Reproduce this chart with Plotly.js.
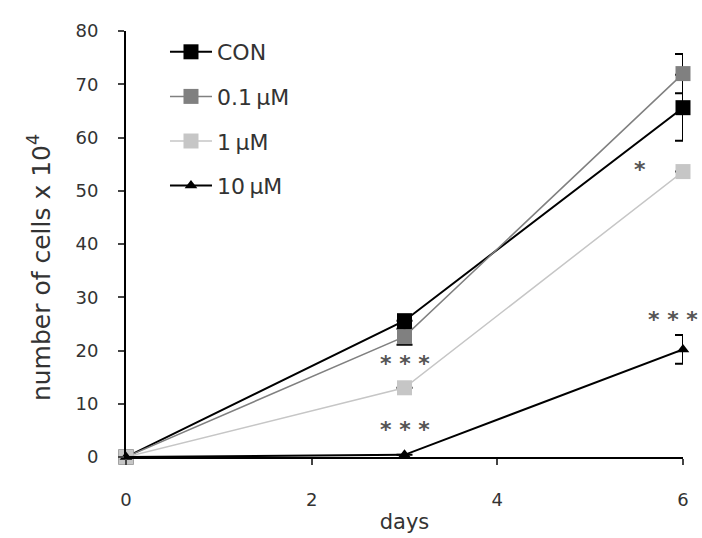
<!DOCTYPE html>
<html>
<head>
<meta charset="utf-8">
<script src="https://cdn.plot.ly/plotly-3.0.1.min.js"></script>
<style>html,body{margin:0;padding:0;background:#fff;}#chart{width:702px;height:538px;}</style>
</head>
<body>
<div id="chart"></div>
<script>
const days = [0, 3, 6];
const seriesNames = ["CON", "0.1\u2009\u03bcM", "1\u2009\u03bcM", "10\u2009\u03bcM"];
const conValues = [0, 25.6, 65.6];
const conErrors = [0, 0, 6.2];
const low01Values = [0, 22.6, 72.0];
const low01Errors = [0, 1.5, 3.7];
const mid1Values = [0, 13.0, 53.6];
const mid1Errors = [0, 0, 0];
const high10Values = [0, 0.4, 20.2];
const high10Errors = [0, 0, 2.7];

const sigX = [3, 3, 5.54, 5.89];
const sigY = [17.6, 5.2, 54.0, 25.9];
const sigText = ["* * *", "* * *", "*", "* * *"];
const yTitleText = "number of cells x 10<sup>4</sup>";

const lineColors = ["#000000", "#808080", "#c6c6c6", "#000000"];
const symbols = ["square", "square", "square", "triangle-up"];
const lineWidths = [2, 1.5, 1.5, 2];
const markerSizes = [15, 15, 15, 11];

const ys = [conValues, low01Values, mid1Values, high10Values];
const errs = [conErrors, low01Errors, mid1Errors, high10Errors];

const traces = ys.map((y, i) => ({
  x: days, y: y, name: seriesNames[i], type: "scatter", mode: "lines+markers",
  legendgroup: "g" + i, cliponaxis: false,
  line: {color: lineColors[i], width: lineWidths[i]},
  marker: {symbol: symbols[i], size: markerSizes[i], color: lineColors[i]},
  error_y: {type: "data", array: errs[i], visible: true, color: "#000", thickness: 2, width: 8}
}));

const annotations = sigX.map((x, i) => ({
  x: x, y: sigY[i], xref: "x", yref: "y", text: "<b>" + sigText[i] + "</b>", showarrow: false,
  font: {family: "DejaVu Sans", size: 22, color: "#555"}
}));
annotations.push({
  x: -0.154, y: 0.444, xref: "paper", yref: "paper", text: yTitleText, textangle: -90,
  showarrow: false, xanchor: "center", yanchor: "middle",
  font: {family: "DejaVu Sans", size: 25, color: "#333"}
});

const layout = {
  width: 702, height: 538,
  margin: {l: 126, r: 19, t: 31, b: 81},
  paper_bgcolor: "#fff", plot_bgcolor: "#fff",
  font: {family: "DejaVu Sans", size: 18, color: "#333"},
  showlegend: true,
  legend: {x: 0.07, y: 1.0, xanchor: "left", yanchor: "top", tracegroupgap: 13, itemwidth: 42,
           font: {family: "DejaVu Sans", size: 22, color: "#333"}, bgcolor: "rgba(0,0,0,0)"},
  xaxis: {range: [0, 6], tickvals: [0, 2, 4, 6], ticks: "outside", ticklen: 6, tickwidth: 2,
          ticklabelstandoff: 19, tickfont: {size: 18, color: "#333"},
          showline: true, linecolor: "#000", linewidth: 2, showgrid: false, zeroline: false,
          title: {text: "days", standoff: 6, font: {size: 21, color: "#333"}}},
  yaxis: {range: [0, 80], dtick: 10, ticks: "outside", ticklen: 6, tickwidth: 2,
          ticklabelstandoff: 16, tickfont: {size: 18, color: "#333"},
          showline: true, linecolor: "#000", linewidth: 2, showgrid: false, zeroline: false},
  annotations: annotations
};

Plotly.newPlot("chart", traces, layout, {displayModeBar: false, staticPlot: true});
</script>
</body>
</html>
